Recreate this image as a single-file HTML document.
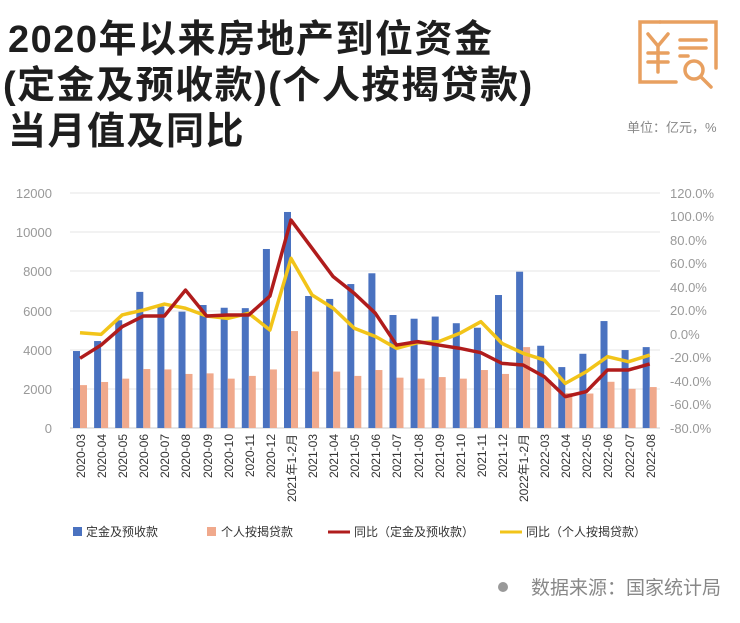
<!DOCTYPE html>
<html><head><meta charset="utf-8"><style>
body{margin:0;background:#fff;width:740px;height:623px;overflow:hidden;font-family:"Liberation Sans","Noto Sans CJK SC",sans-serif;}
.t{position:absolute;left:8px;font-size:38px;font-weight:bold;color:#1e1e1e;letter-spacing:1.5px;white-space:nowrap;line-height:46px}
</style></head><body>
<div class="t" style="top:17px">2020年以来房地产到位资金</div>
<div class="t" style="top:63px;left:3px">(定金及预收款)(个人按揭贷款)</div>
<div class="t" style="top:109px">当月值及同比</div>
<svg style="position:absolute;left:0;top:0" width="740" height="623" id="s">
<g fill="none" stroke="#e8a060" stroke-width="3.5" stroke-linecap="round">
<path d="M660 22 H716 V68"/><path d="M676 82 H640 V22 H660"/>
<path d="M648 34 L658 46 L668 34 M658 46 V72 M648 53 H668 M648 62 H668"/>
<path d="M680 40 H706 M680 48 H706 M680 56 H688"/>
<circle cx="694" cy="70" r="9"/><path d="M701 77 L711 87"/>
</g>
<text x="627" y="132" font-size="13" fill="#888">单位：亿元，%</text>
<g stroke="#e4e4e4" stroke-width="1">
<line x1="70" x2="660" y1="193" y2="193"/><line x1="70" x2="660" y1="232" y2="232"/><line x1="70" x2="660" y1="271" y2="271"/><line x1="70" x2="660" y1="311" y2="311"/><line x1="70" x2="660" y1="350" y2="350"/><line x1="70" x2="660" y1="389" y2="389"/><line x1="70" x2="660" y1="428" y2="428" stroke="#ccc"/>
</g>
<g font-size="13" fill="#999" text-anchor="end">
<text x="52" y="198">12000</text><text x="52" y="237">10000</text><text x="52" y="276">8000</text><text x="52" y="316">6000</text><text x="52" y="355">4000</text><text x="52" y="394">2000</text><text x="52" y="433">0</text>
</g>
<g font-size="13" fill="#999">
<text x="670" y="198">120.0%</text><text x="670" y="221">100.0%</text><text x="670" y="245">80.0%</text><text x="670" y="268">60.0%</text><text x="670" y="292">40.0%</text><text x="670" y="315">20.0%</text><text x="670" y="339">0.0%</text><text x="670" y="362">-20.0%</text><text x="670" y="386">-40.0%</text><text x="670" y="409">-60.0%</text><text x="670" y="433">-80.0%</text>
</g>
<g id="bars"></g>
<g font-size="12" fill="#333" text-anchor="end" id="xl">
<text transform="translate(85,434) rotate(-90)">2020-03</text>
<text transform="translate(106,434) rotate(-90)">2020-04</text>
<text transform="translate(127,434) rotate(-90)">2020-05</text>
<text transform="translate(148,434) rotate(-90)">2020-06</text>
<text transform="translate(169,434) rotate(-90)">2020-07</text>
<text transform="translate(190,434) rotate(-90)">2020-08</text>
<text transform="translate(212,434) rotate(-90)">2020-09</text>
<text transform="translate(233,434) rotate(-90)">2020-10</text>
<text transform="translate(254,434) rotate(-90)">2020-11</text>
<text transform="translate(275,434) rotate(-90)">2020-12</text>
<text transform="translate(296,434) rotate(-90)">2021年1-2月</text>
<text transform="translate(317,434) rotate(-90)">2021-03</text>
<text transform="translate(338,434) rotate(-90)">2021-04</text>
<text transform="translate(359,434) rotate(-90)">2021-05</text>
<text transform="translate(380,434) rotate(-90)">2021-06</text>
<text transform="translate(401,434) rotate(-90)">2021-07</text>
<text transform="translate(423,434) rotate(-90)">2021-08</text>
<text transform="translate(444,434) rotate(-90)">2021-09</text>
<text transform="translate(465,434) rotate(-90)">2021-10</text>
<text transform="translate(486,434) rotate(-90)">2021-11</text>
<text transform="translate(507,434) rotate(-90)">2021-12</text>
<text transform="translate(528,434) rotate(-90)">2022年1-2月</text>
<text transform="translate(549,434) rotate(-90)">2022-03</text>
<text transform="translate(570,434) rotate(-90)">2022-04</text>
<text transform="translate(591,434) rotate(-90)">2022-05</text>
<text transform="translate(612,434) rotate(-90)">2022-06</text>
<text transform="translate(634,434) rotate(-90)">2022-07</text>
<text transform="translate(655,434) rotate(-90)">2022-08</text>
</g>
<g font-size="12" fill="#333">
<rect x="73" y="527" width="9" height="9" fill="#4a72c0"/><text x="86" y="536">定金及预收款</text>
<rect x="207" y="527" width="9" height="9" fill="#f0a98c"/><text x="221" y="536">个人按揭贷款</text>
<line x1="328" x2="350" y1="532" y2="532" stroke="#b01c1c" stroke-width="3"/><text x="354" y="536">同比（定金及预收款）</text>
<line x1="500" x2="522" y1="532" y2="532" stroke="#f2c419" stroke-width="3"/><text x="526" y="536">同比（个人按揭贷款）</text>
</g>
<circle cx="503" cy="587" r="5" fill="#999"/>
<text x="531" y="594" font-size="19" fill="#888">数据来源：国家统计局</text>
</svg>
<script>
var B=[3930,4440,5500,6950,6200,5940,6280,6140,6120,9140,11030,6740,6590,7350,7900,5770,5580,5690,5350,5120,6790,7980,4200,3110,3790,5460,3980,4130];
var P=[2190,2350,2520,3010,2990,2760,2790,2520,2660,2990,4950,2880,2880,2660,2960,2570,2520,2600,2520,2960,2760,4130,2450,1780,1760,2360,2000,2090];
var R=[-20.7,-9.4,6.2,15.3,15.3,37.4,15.3,16.2,16.2,32.3,97,72.9,48.8,34.6,17.6,-9.4,-6.5,-9.4,-12.2,-15.9,-25,-26.4,-36.3,-53.3,-49,-30.6,-30.6,-25.5];
var Y=[1.1,-0.3,16.2,20.4,25.5,21.9,15.3,13.3,17.6,3.4,64.4,33.2,21.9,4.9,-2.1,-12.2,-7.4,-6.5,0.6,10.5,-8,-16.4,-22.1,-42,-32,-19.3,-23.6,-17.9];
var g=document.getElementById('bars'),s='';
var rp='',yp='';
for(var i=0;i<28;i++){var x=73+i*21.1;
var hb=B[i]/2000*39.17,hp=P[i]/2000*39.17;
s+='<rect x="'+x+'" y="'+(428-hb)+'" width="7" height="'+hb+'" fill="#4a72c0"/>';
s+='<rect x="'+(x+7)+'" y="'+(428-hp)+'" width="7" height="'+hp+'" fill="#f0a98c"/>';
var cx=x+7;rp+=(i?'L':'M')+cx+' '+(193+(120-R[i])*1.175);yp+=(i?'L':'M')+cx+' '+(193+(120-Y[i])*1.175);}
s+='<path d="'+yp+'" fill="none" stroke="#f2c419" stroke-width="3.5" stroke-linejoin="round"/>';
s+='<path d="'+rp+'" fill="none" stroke="#b01c1c" stroke-width="3.5" stroke-linejoin="round"/>';
g.innerHTML=s;
</script>
</body></html>
